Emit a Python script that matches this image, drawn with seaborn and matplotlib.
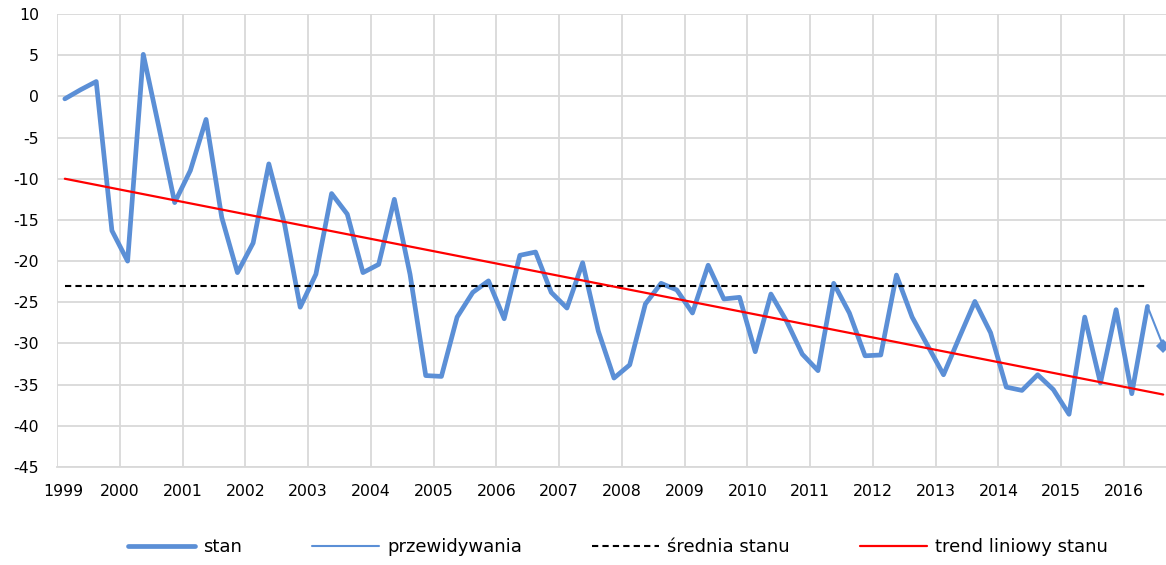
import numpy as np
import pandas as pd
import matplotlib
matplotlib.use("Agg")
import matplotlib.pyplot as plt
import matplotlib.transforms as mtransforms
from matplotlib.lines import Line2D
import seaborn as sns

# quarterly observations, mid-quarter positions
start_year = 1999.125
stan = [-0.3, 0.8, 1.8, -16.3, -20.0, 5.1, -3.8, -12.9, -9.0, -2.8,
        -14.7, -21.4, -17.8, -8.2, -15.5, -25.6, -21.6, -11.8, -14.3, -21.4,
        -20.4, -12.5, -21.6, -33.9, -34.0, -26.8, -23.8, -22.4, -27.0, -19.3,
        -18.9, -23.8, -25.7, -20.2, -28.5, -34.2, -32.6, -25.2, -22.7, -23.5,
        -26.3, -20.5, -24.6, -24.4, -31.0, -24.0, -27.3, -31.3, -33.3, -22.7,
        -26.3, -31.5, -31.4, -21.7, -26.8, -30.3, -33.8, -29.3, -24.9, -28.7,
        -35.3, -35.7, -33.8, -35.6, -38.6, -26.8, -34.8, -25.9, -36.1, -25.5]
przewidywania = [-25.5, -30.3]
srednia_stanu = -23.0
trend_endpoints = [-10.0, -36.2]

year_ticks = list(range(1999, 2017))
y_ticks = list(range(-45, 11, 5))
legend_labels = ["stan", "przewidywania", "średnia stanu", "trend liniowy stanu"]

n = len(stan)
x_stan = start_year + 0.25 * np.arange(n)
x_pred = start_year + 0.25 * np.arange(n - 1, n + 1)

df_stan = pd.DataFrame({"x": x_stan, "y": stan})
df_pred = pd.DataFrame({"x": x_pred, "y": przewidywania})
df_mean = pd.DataFrame({"x": [x_stan[0], x_stan[-1]], "y": [srednia_stanu, srednia_stanu]})
df_trend = pd.DataFrame({"x": [x_stan[0], x_pred[-1]], "y": trend_endpoints})

sns.set_theme(style="white")
plt.rcParams["font.family"] = ["DejaVu Sans"]

blue = "#5B8FD6"
fig = plt.figure(figsize=(11.66, 5.65), dpi=100)
ax = fig.add_axes([57 / 1166, 1 - 467 / 565, 1 - 57 / 1166, (467 - 14) / 565])

sns.lineplot(data=df_stan, x="x", y="y", ax=ax, color=blue, linewidth=3.4, zorder=4)
sns.lineplot(data=df_pred, x="x", y="y", ax=ax, color=blue, linewidth=1.5, zorder=3,
             marker="D", markersize=7, markeredgewidth=0, markevery=[1])
sns.lineplot(data=df_mean, x="x", y="y", ax=ax, color="black", linewidth=1.5,
             linestyle=(0, (3, 2)), zorder=5)
sns.lineplot(data=df_trend, x="x", y="y", ax=ax, color="#FF0000", linewidth=1.6, zorder=6)

ax.set_xlim(1999, 2016.67)
ax.set_ylim(-45, 10)
ax.set_xticks(year_ticks)
ax.set_xticklabels([str(y) for y in year_ticks])
ax.set_yticks(y_ticks)
ax.set_yticklabels([str(v) for v in y_ticks])
ax.set_xlabel("")
ax.set_ylabel("")

ax.grid(True, color="#D9D9D9", linewidth=1.3)
ax.set_axisbelow(True)
for s in ["top", "right", "left"]:
    ax.spines[s].set_visible(False)
ax.spines["bottom"].set_color("#D9D9D9")
ax.spines["bottom"].set_linewidth(1.3)
ax.tick_params(axis="both", length=0, labelsize=11.3, colors="black")
ax.tick_params(axis="y", pad=13)
ax.tick_params(axis="x", pad=12)

# nudge first year label like the original
lbl = ax.get_xticklabels()[0]
lbl.set_transform(lbl.get_transform() + mtransforms.ScaledTranslation(6 / 100, 0, fig.dpi_scale_trans))

handles = [
    Line2D([], [], color=blue, linewidth=3.4),
    Line2D([], [], color=blue, linewidth=1.5),
    Line2D([], [], color="black", linewidth=1.5, linestyle=(0, (3, 2))),
    Line2D([], [], color="#FF0000", linewidth=1.6),
]
fig.legend(handles, legend_labels, loc="center", bbox_to_anchor=(0.53, 1 - 547 / 565),
           ncol=4, frameon=False, fontsize=13, handlelength=3.7, handletextpad=0.45,
           columnspacing=3.9, labelcolor="black")

fig.savefig("out.png", dpi=100)
